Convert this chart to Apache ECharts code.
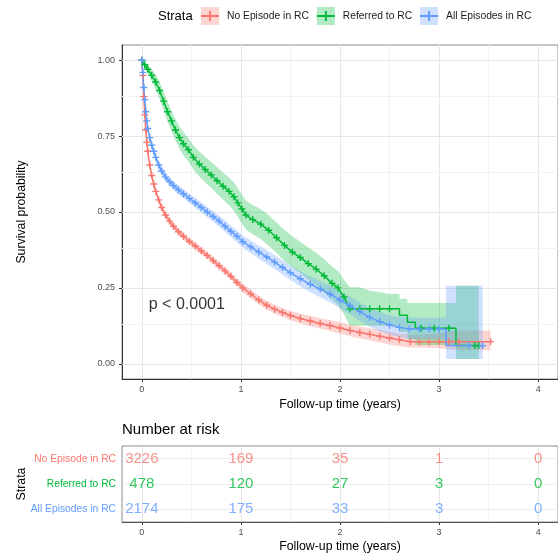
<!DOCTYPE html>
<html>
<head>
<meta charset="utf-8">
<script src="https://cdn.jsdelivr.net/npm/echarts@6.0.0/dist/echarts.min.js"></script>
<style>
  html, body { margin: 0; padding: 0; background: #fff; }
  #chart { width: 558px; height: 554px; }
</style>
</head>
<body>
<div id="chart"></div>
<script>
  // strata and their colours (ggplot default hue palette)
  const strata = ['No Episode in RC', 'Referred to RC', 'All Episodes in RC']
  const lineColors = ['#F8766D', '#00BA38', '#619CFF']
  const bandColors = ['rgba(248,118,109,0.3)', 'rgba(0,186,56,0.3)', 'rgba(97,156,255,0.3)']

  // No Episode in RC
  const noTime = [0, 0.01, 0.02, 0.03, 0.04, 0.05, 0.06, 0.08, 0.10, 0.12, 0.14, 0.17, 0.20, 0.24, 0.28, 0.32, 0.37, 0.42, 0.48, 0.54, 0.60, 0.66, 0.72, 0.78, 0.84, 0.90, 0.96, 1.02, 1.10, 1.18, 1.26, 1.34, 1.42, 1.50, 1.60, 1.70, 1.80, 1.90, 2.00, 2.10, 2.20, 2.30, 2.40, 2.50, 2.60, 2.71, 2.80, 2.90, 3.00, 3.10, 3.20, 3.52]
  const noSurv = [1, 0.95, 0.88, 0.82, 0.77, 0.73, 0.70, 0.655, 0.62, 0.592, 0.568, 0.54, 0.515, 0.49, 0.47, 0.453, 0.435, 0.42, 0.403, 0.388, 0.372, 0.357, 0.34, 0.323, 0.306, 0.288, 0.268, 0.25, 0.23, 0.21, 0.193, 0.18, 0.169, 0.159, 0.149, 0.141, 0.133, 0.126, 0.118, 0.11, 0.103, 0.097, 0.091, 0.085, 0.079, 0.073, 0.073, 0.073, 0.073, 0.073, 0.073, 0.073]
  const noLower = [1, 0.942, 0.87, 0.81, 0.76, 0.72, 0.69, 0.645, 0.61, 0.582, 0.558, 0.53, 0.505, 0.479, 0.459, 0.442, 0.424, 0.408, 0.391, 0.376, 0.36, 0.345, 0.327, 0.31, 0.293, 0.275, 0.255, 0.236, 0.216, 0.196, 0.178, 0.165, 0.154, 0.143, 0.133, 0.124, 0.116, 0.108, 0.099, 0.091, 0.083, 0.077, 0.07, 0.064, 0.058, 0.054, 0.054, 0.053, 0.052, 0.048, 0.045, 0.045]
  const noUpper = [1, 0.958, 0.89, 0.83, 0.78, 0.74, 0.71, 0.665, 0.63, 0.602, 0.578, 0.55, 0.525, 0.501, 0.481, 0.464, 0.446, 0.432, 0.415, 0.4, 0.384, 0.369, 0.353, 0.336, 0.319, 0.301, 0.281, 0.264, 0.244, 0.224, 0.208, 0.195, 0.184, 0.175, 0.165, 0.158, 0.15, 0.144, 0.137, 0.129, 0.123, 0.117, 0.112, 0.106, 0.1, 0.096, 0.096, 0.098, 0.1, 0.105, 0.11, 0.11]

  // Referred to RC
  const refTime = [0, 0.03, 0.06, 0.10, 0.14, 0.18, 0.22, 0.26, 0.30, 0.34, 0.38, 0.42, 0.47, 0.52, 0.58, 0.64, 0.70, 0.76, 0.82, 0.88, 0.93, 0.97, 1.01, 1.05, 1.12, 1.20, 1.28, 1.36, 1.44, 1.52, 1.60, 1.68, 1.76, 1.84, 1.92, 1.98, 2.04, 2.10, 2.20, 2.30, 2.40, 2.50, 2.60, 2.60, 2.68, 2.68, 2.76, 2.76, 2.82, 2.95, 3.10, 3.17, 3.17, 3.36, 3.40]
  const refSurv = [1, 0.985, 0.97, 0.95, 0.928, 0.9, 0.865, 0.83, 0.8, 0.77, 0.745, 0.725, 0.705, 0.68, 0.658, 0.64, 0.622, 0.603, 0.585, 0.568, 0.55, 0.53, 0.51, 0.49, 0.475, 0.46, 0.44, 0.415, 0.39, 0.368, 0.35, 0.33, 0.312, 0.29, 0.265, 0.25, 0.22, 0.181, 0.181, 0.181, 0.181, 0.181, 0.181, 0.16, 0.16, 0.137, 0.137, 0.117, 0.117, 0.117, 0.117, 0.117, 0.06, 0.06, 0.06]
  const refLower = [1, 0.975, 0.955, 0.93, 0.903, 0.872, 0.834, 0.797, 0.766, 0.735, 0.708, 0.687, 0.666, 0.64, 0.617, 0.598, 0.579, 0.559, 0.54, 0.522, 0.503, 0.483, 0.462, 0.442, 0.427, 0.411, 0.39, 0.365, 0.339, 0.317, 0.298, 0.277, 0.258, 0.235, 0.21, 0.194, 0.163, 0.125, 0.125, 0.125, 0.125, 0.125, 0.125, 0.105, 0.105, 0.08, 0.08, 0.062, 0.062, 0.062, 0.062, 0.062, 0.016, 0.016, 0.016]
  const refUpper = [1, 0.995, 0.985, 0.97, 0.953, 0.928, 0.896, 0.863, 0.834, 0.805, 0.782, 0.763, 0.744, 0.72, 0.699, 0.682, 0.665, 0.647, 0.63, 0.614, 0.597, 0.577, 0.558, 0.538, 0.523, 0.509, 0.49, 0.465, 0.441, 0.419, 0.402, 0.383, 0.366, 0.345, 0.32, 0.306, 0.277, 0.252, 0.252, 0.241, 0.236, 0.23, 0.23, 0.214, 0.214, 0.2, 0.2, 0.2, 0.2, 0.2, 0.2, 0.2, 0.257, 0.257, 0.257]

  // All Episodes in RC
  const allTime = [0, 0.01, 0.02, 0.03, 0.04, 0.05, 0.06, 0.08, 0.10, 0.12, 0.14, 0.17, 0.20, 0.24, 0.28, 0.32, 0.37, 0.42, 0.48, 0.54, 0.60, 0.66, 0.72, 0.78, 0.84, 0.90, 0.96, 1.02, 1.10, 1.18, 1.26, 1.34, 1.42, 1.50, 1.60, 1.70, 1.80, 1.90, 2.00, 2.10, 2.20, 2.30, 2.40, 2.50, 2.60, 2.70, 2.80, 2.90, 3.00, 3.07, 3.07, 3.30, 3.44]
  const allSurv = [1, 0.96, 0.91, 0.87, 0.83, 0.80, 0.775, 0.745, 0.72, 0.70, 0.68, 0.655, 0.635, 0.615, 0.6, 0.587, 0.573, 0.56, 0.545, 0.53, 0.515, 0.5, 0.485, 0.47, 0.453, 0.436, 0.42, 0.402, 0.385, 0.368, 0.352, 0.335, 0.317, 0.3, 0.28, 0.262, 0.246, 0.23, 0.21, 0.192, 0.172, 0.153, 0.139, 0.128, 0.12, 0.115, 0.115, 0.115, 0.115, 0.115, 0.06, 0.06, 0.06]
  const allLower = [1, 0.952, 0.90, 0.86, 0.82, 0.79, 0.764, 0.734, 0.708, 0.688, 0.668, 0.642, 0.622, 0.601, 0.586, 0.572, 0.558, 0.545, 0.53, 0.514, 0.498, 0.483, 0.467, 0.452, 0.434, 0.417, 0.4, 0.382, 0.364, 0.346, 0.329, 0.312, 0.293, 0.276, 0.255, 0.236, 0.219, 0.203, 0.182, 0.163, 0.142, 0.122, 0.107, 0.096, 0.088, 0.082, 0.08, 0.08, 0.08, 0.08, 0.016, 0.016, 0.016]
  const allUpper = [1, 0.968, 0.92, 0.88, 0.84, 0.81, 0.786, 0.756, 0.732, 0.712, 0.692, 0.668, 0.648, 0.629, 0.614, 0.602, 0.588, 0.575, 0.56, 0.546, 0.532, 0.517, 0.503, 0.488, 0.472, 0.455, 0.44, 0.422, 0.406, 0.39, 0.375, 0.358, 0.341, 0.324, 0.305, 0.288, 0.273, 0.257, 0.238, 0.221, 0.202, 0.184, 0.171, 0.16, 0.154, 0.152, 0.152, 0.152, 0.152, 0.152, 0.257, 0.257, 0.257]

  // number at risk
  const riskTimes = [0, 1, 2, 3, 4]
  const riskNo = [3226, 169, 35, 1, 0]
  const riskRef = [478, 120, 27, 3, 0]
  const riskAll = [2174, 175, 33, 3, 0]

  const xTicks = [0, 1, 2, 3, 4]
  const yTicks = [0, 0.25, 0.5, 0.75, 1]
  const pLabel = 'p < 0.0001'
  const pPos = [0.07, 0.195]

  const curves = [
    { time: noTime, surv: noSurv, lower: noLower, upper: noUpper },
    { time: refTime, surv: refSurv, lower: refLower, upper: refUpper },
    { time: allTime, surv: allSurv, lower: allLower, upper: allUpper }
  ]
  const risks = [riskNo, riskRef, riskAll]

  const font = '"Liberation Sans", Arial, Helvetica, sans-serif'
  const plusMark = 'path://M0,4h10v2h-10z M4,0h2v10h-2z'
  const plusKey = 'path://M0,4h18v2h-18z M8,0h2v10h-2z'
  const axisGrey = '#4D4D4D'

  // ribbon polygon: upper edge forward, lower edge back
  function bandPoints(time, lower, upper) {
    const pts = time.map((t, i) => [t, upper[i]])
    for (let i = time.length - 1; i >= 0; i--) pts.push([time[i], lower[i]])
    return pts
  }

  // grid lines (major + minor) drawn with markLine under the curves
  const vLines = []
  const hLines = []
  xTicks.forEach((t, i) => {
    vLines.push({ xAxis: t, lineStyle: { color: '#e6e6e6' } })
    if (i < xTicks.length - 1) vLines.push({ xAxis: (t + xTicks[i + 1]) / 2, lineStyle: { color: '#f2f2f2' } })
  })
  yTicks.forEach((t, i) => {
    hLines.push({ yAxis: t, lineStyle: { color: '#e6e6e6' } })
    if (i < yTicks.length - 1) hLines.push({ yAxis: (t + yTicks[i + 1]) / 2, lineStyle: { color: '#f2f2f2' } })
  })
  const riskHLines = strata.map(s => ({ yAxis: s, lineStyle: { color: '#ececec' } }))

  const gridLineSeries = (xi, lines) => ({
    type: 'line', xAxisIndex: xi, yAxisIndex: xi, data: [], z: 1, silent: true,
    markLine: { z: 1, silent: true, symbol: 'none', label: { show: false }, lineStyle: { type: 'solid', width: 1 }, data: lines, animation: false }
  })

  const series = [gridLineSeries(0, vLines.concat(hLines)), gridLineSeries(1, vLines.concat(riskHLines))]

  curves.forEach((c, k) => {
    const band = bandPoints(c.time, c.lower, c.upper)
    series.push({
      type: 'custom',
      xAxisIndex: 0,
      yAxisIndex: 0,
      z: 2,
      silent: true,
      data: c.time.map((t, i) => [t, c.lower[i], c.upper[i]]),
      encode: { x: 0, y: [1, 2] },
      renderItem(params, api) {
        if (params.dataIndex !== 0) return null
        return {
          type: 'polygon',
          shape: { points: band.map(p => api.coord(p)) },
          style: { fill: bandColors[k] }
        }
      }
    })
  })

  curves.forEach((c, k) => {
    // no censor mark on the corners of a vertical drop
    const data = c.time.map((t, i) => {
      const corner = (i > 0 && c.time[i - 1] === t) || (i < c.time.length - 1 && c.time[i + 1] === t)
      return corner ? { value: [t, c.surv[i]], symbol: 'none' } : [t, c.surv[i]]
    })
    series.push({
      name: strata[k],
      type: 'line',
      xAxisIndex: 0,
      yAxisIndex: 0,
      z: 3,
      data,
      showSymbol: true,
      symbol: plusMark,
      symbolSize: 7,
      itemStyle: { color: lineColors[k] },
      lineStyle: { color: lineColors[k], width: 1.5 },
      emphasis: { disabled: true }
    })
  })

  series.push({
    type: 'scatter',
    xAxisIndex: 0,
    yAxisIndex: 0,
    z: 4,
    symbolSize: 0,
    data: [pPos],
    label: { show: true, position: 'right', distance: 0, formatter: pLabel, fontSize: 16, color: '#000', fontFamily: font }
  })

  risks.forEach((r, k) => {
    series.push({
      type: 'scatter',
      xAxisIndex: 1,
      yAxisIndex: 1,
      z: 4,
      symbolSize: 0,
      data: riskTimes.map((t, i) => [t, strata[k], r[i]]),
      label: {
        show: true, position: 'inside', formatter: p => p.value[2],
        fontSize: 15, color: lineColors[k], fontFamily: font
      }
    })
  })

  const legendCommon = {
    left: 201,
    orient: 'horizontal',
    padding: 0,
    itemGap: 8,
    itemWidth: 18,
    selectedMode: false,
    textStyle: { fontSize: 10.3, fontFamily: font, padding: [0, 0, 0, 3] }
  }

  const option = {
    animation: false,
    textStyle: { fontFamily: font },
    title: [
      { text: 'Strata', left: 158, top: 10, padding: 0, textStyle: { fontSize: 13, fontWeight: 'normal', color: '#000', fontFamily: font } },
      { text: 'Number at risk', left: 122, top: 422, padding: 0, textStyle: { fontSize: 15, fontWeight: 'normal', color: '#000', fontFamily: font } }
    ],
    legend: [
      Object.assign({}, legendCommon, {
        top: 7,
        itemHeight: 18,
        data: strata.map((s, k) => ({ name: s, icon: 'rect', itemStyle: { color: bandColors[k], borderWidth: 0 } })),
        textStyle: Object.assign({}, legendCommon.textStyle, { color: '#1a1a1a' })
      }),
      Object.assign({}, legendCommon, {
        top: 11,
        itemHeight: 10,
        data: strata.map((s, k) => ({ name: s, icon: plusKey, itemStyle: { color: lineColors[k], borderWidth: 0 } })),
        textStyle: Object.assign({}, legendCommon.textStyle, { color: 'rgba(0,0,0,0)' })
      })
    ],
    grid: [
      { left: 122, top: 45, width: 444.4, height: 334, show: true, borderColor: '#8c8c8c', borderWidth: 1 },
      { left: 122, top: 446, width: 444.4, height: 76, show: true, borderColor: '#8c8c8c', borderWidth: 1 }
    ],
    xAxis: [
      {
        type: 'value', gridIndex: 0, min: -0.2, max: 4.2,
        name: 'Follow-up time (years)', nameLocation: 'middle', nameGap: 20,
        nameTextStyle: { fontSize: 12.3, color: '#000', fontFamily: font },
        axisLine: { show: true, onZero: false, lineStyle: { color: '#333', width: 1 } },
        axisTick: { show: true, length: 3, customValues: xTicks, lineStyle: { color: '#333' } },
        axisLabel: { customValues: xTicks, fontSize: 9, color: axisGrey, margin: 6 },
        splitLine: { show: false }
      },
      {
        type: 'value', gridIndex: 1, min: -0.2, max: 4.2,
        name: 'Follow-up time (years)', nameLocation: 'middle', nameGap: 19,
        nameTextStyle: { fontSize: 12.3, color: '#000', fontFamily: font },
        axisLine: { show: true, onZero: false, lineStyle: { color: '#555', width: 1 } },
        axisTick: { show: true, length: 3, customValues: xTicks, lineStyle: { color: '#333' } },
        axisLabel: { customValues: xTicks, fontSize: 9, color: axisGrey, margin: 6 },
        splitLine: { show: false }
      }
    ],
    yAxis: [
      {
        type: 'value', gridIndex: 0, min: -0.05, max: 1.05,
        name: 'Survival probability', nameLocation: 'middle', nameGap: 94,
        nameTextStyle: { fontSize: 12.3, color: '#000', fontFamily: font },
        axisLine: { show: true, onZero: false, lineStyle: { color: '#333', width: 1 } },
        axisTick: { show: true, length: 3, customValues: yTicks, lineStyle: { color: '#333' } },
        axisLabel: { customValues: yTicks, fontSize: 9, color: axisGrey, margin: 7, formatter: v => v.toFixed(2) },
        splitLine: { show: false }
      },
      {
        type: 'category', gridIndex: 1, data: strata, inverse: true,
        name: 'Strata', nameLocation: 'middle', nameGap: 94, nameMoveOverlap: false,
        nameTextStyle: { fontSize: 12.3, color: '#000', fontFamily: font },
        axisLine: { show: true, lineStyle: { color: '#555', width: 1 } },
        axisTick: { show: true, length: 3, alignWithLabel: true, lineStyle: { color: '#333' } },
        axisLabel: { fontSize: 10.3, margin: 6, color: (v, i) => lineColors[strata.indexOf(v)] },
        splitLine: { show: false }
      }
    ],
    series
  }

  const chart = echarts.init(document.getElementById('chart'), null, { renderer: 'canvas' })
  chart.setOption(option)
</script>
</body>
</html>
